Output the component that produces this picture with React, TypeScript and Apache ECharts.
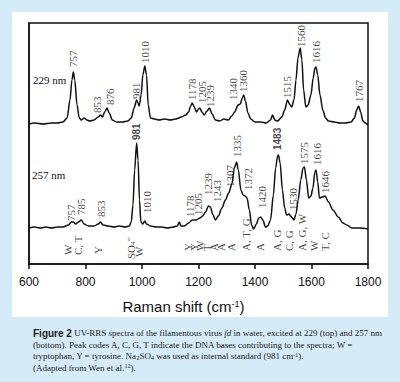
import React, { useEffect, useRef } from "react";
import * as echarts from "echarts";

// ---- x axis ----
const xTicks = [600, 800, 1000, 1200, 1400, 1600, 1800];

// ---- 229 nm spectrum (arbitrary intensity units) ----
const wn229 = [600, 620, 650, 680, 700, 720, 735, 745, 752, 757, 762, 770, 778, 785, 795, 805, 815, 830, 845, 853, 860, 868, 876, 884, 895, 910, 930, 950, 962, 972, 981, 990, 997, 1003, 1010, 1016, 1022, 1030, 1045, 1060, 1080, 1100, 1120, 1140, 1155, 1165, 1172, 1178, 1185, 1193, 1200, 1205, 1212, 1220, 1230, 1239, 1248, 1260, 1275, 1290, 1305, 1318, 1328, 1340, 1348, 1355, 1360, 1366, 1375, 1385, 1400, 1420, 1440, 1455, 1462, 1470, 1480, 1495, 1505, 1515, 1522, 1530, 1538, 1545, 1552, 1560, 1566, 1572, 1580, 1588, 1598, 1606, 1612, 1616, 1622, 1630, 1640, 1650, 1660, 1680, 1700, 1720, 1740, 1752, 1760, 1767, 1774, 1782, 1790, 1800];
const int229 = [140, 141, 140, 141, 141, 142, 146, 164, 184, 192, 184, 159, 146, 144, 146, 144, 143, 144, 147, 149, 147, 152, 156, 151, 144, 142, 142, 143, 146, 156, 164, 158, 169, 189, 198, 189, 159, 146, 145, 144, 145, 144, 145, 147, 149, 152, 158, 161, 157, 152, 155, 156, 152, 149, 153, 156, 150, 144, 143, 145, 144, 148, 152, 159, 160, 166, 169, 163, 151, 145, 142, 142, 141, 144, 149, 144, 143, 147, 154, 164, 160, 157, 164, 184, 206, 216, 204, 174, 157, 159, 169, 186, 196, 197, 189, 169, 154, 146, 143, 142, 141, 141, 142, 146, 154, 158, 152, 143, 141, 139];

// ---- 257 nm spectrum ----
const wn257 = [600, 620, 640, 660, 680, 700, 720, 740, 750, 757, 765, 775, 785, 795, 810, 830, 845, 853, 862, 880, 900, 920, 940, 955, 962, 968, 974, 981, 986, 991, 996, 1003, 1010, 1016, 1030, 1050, 1070, 1090, 1110, 1125, 1132, 1138, 1150, 1165, 1178, 1192, 1205, 1215, 1225, 1235, 1242, 1250, 1260, 1270, 1283, 1295, 1307, 1318, 1327, 1335, 1341, 1350, 1358, 1365, 1372, 1380, 1388, 1395, 1405, 1413, 1420, 1428, 1437, 1445, 1455, 1465, 1473, 1480, 1483, 1489, 1497, 1505, 1512, 1520, 1526, 1532, 1538, 1545, 1553, 1562, 1570, 1575, 1582, 1590, 1598, 1605, 1612, 1616, 1622, 1628, 1638, 1648, 1660, 1676, 1695, 1711, 1725, 1743, 1770, 1800];
const int257 = [36, 37, 36, 37, 36, 37, 37, 39, 42, 42, 40, 42, 44, 40, 38, 38, 40, 42, 39, 38, 37, 38, 37, 38, 42, 59, 94, 121, 104, 64, 42, 40, 43, 40, 38, 37, 37, 36, 37, 38, 42, 38, 38, 41, 44, 44, 46, 48, 52, 58, 57, 50, 44, 48, 56, 64, 71, 80, 96, 102, 94, 74, 69, 68, 66, 54, 39, 35, 40, 46, 47, 44, 37, 38, 44, 69, 96, 108, 109, 101, 74, 56, 49, 50, 48, 46, 44, 50, 64, 84, 96, 97, 84, 66, 68, 76, 92, 94, 82, 66, 67, 68, 62, 54, 47, 41, 39, 36, 36, 35];

// ---- peak labels, 229 nm (label position in wavenumber, base height in intensity units) ----
const peaks229Text = ["757", "853", "876", "981", "1010", "1178", "1205", "1239", "1340", "1360", "1515", "1560", "1616", "1767"];
const peaks229Wn = [756, 841, 887, 979, 1011, 1177, 1212, 1241, 1322, 1358, 1513, 1563, 1616, 1768];
const peaks229Base = [197, 151, 159, 165, 201, 164, 161, 157, 164, 172, 166, 217, 201, 162];

// ---- peak labels, 257 nm ----
const peaks257Text = ["757", "785", "853", "981", "1010", "1178", "1205", "1239", "1243", "1307", "1335", "1372", "1420", "1483", "1530", "1575", "1616", "1646"];
const peaks257Wn = [749, 784, 855, 982, 1017, 1170, 1198, 1234, 1265, 1311, 1336, 1375, 1425, 1481, 1534, 1573, 1619, 1648];
const peaks257Base = [43, 49, 47, 124, 51, 47, 49, 69, 62, 77, 107, 74, 56, 114, 54, 100, 99, 71];
const peaks257Bold = ["981", "1483"];

// ---- band assignments under the 257 nm trace ----
const assignText = ["W", "C, T", "Y", "{t|SO}{sb|4}{sp|=}", "W", "Y", "Y", "W", "T", "A", "A", "A", "A, T, G", "A", "A, G", "C, G", "A, G, W", "W", "T, C"];
const assignWn = [738, 773, 844, 961, 989, 1163, 1184, 1205, 1230, 1255, 1280, 1315, 1368, 1418, 1478, 1520, 1566, 1609, 1648];
const assignBase = [9, 9, 10, 5, 7, 13, 13, 13, 13, 13, 13, 13, 13, 13, 13, 13, 13, 13, 13];

const traceNames = ["229 nm", "257 nm"];

const captionLines = [
  "{b|Figure 2} UV-RRS spectra of the filamentous virus {i|fd} in water, excited at 229 (top) and 257 nm",
  "(bottom). Peak codes A, C, G, T indicate the DNA bases contributing to the spectra; W =",
  "tryptophan, Y = tyrosine. Na{sb|2}SO{sb|4} was used as internal standard (981 cm{sp|-1}).",
  "(Adapted from Wen et al.{sp|12}).",
];

const SERIF = "'Liberation Serif', 'Times New Roman', serif";
const SANS = "'Liberation Sans', Arial, sans-serif";

function zip(a: number[], b: number[]) {
  return a.map((v, i) => [v, b[i]]);
}

function labelItems(texts: string[], wns: number[], bases: number[], bold: string[] = []) {
  return texts.map((t, i) => ({
    value: [wns[i], bases[i]],
    label: {
      formatter: t,
      fontWeight: bold.includes(t) ? "bold" : "normal",
      fontFamily: bold.includes(t) ? SANS : SERIF,
      fontSize: bold.includes(t) ? 10 : 11,
    },
  }));
}

const labelSeriesBase = {
  type: "scatter",
  symbolSize: 0,
  silent: true,
  z: 5,
  label: {
    show: true,
    position: [0, 0],
    rotate: 90,
    align: "left",
    verticalAlign: "middle",
    color: "#111",
    fontFamily: SERIF,
    fontSize: 11,
    rich: {
      t: { fontFamily: SERIF, fontSize: 11, color: "#111" },
      sb: { fontFamily: SERIF, fontSize: 7, color: "#111", verticalAlign: "bottom" },
      sp: { fontFamily: SERIF, fontSize: 8, color: "#111", verticalAlign: "top" },
    },
  },
};

export default function App() {
  const ref = useRef<HTMLDivElement>(null);
  useEffect(() => {
    const chart = echarts.init(ref.current!, null, { renderer: "svg" });
    const option: any = {
      animation: false,
      backgroundColor: "transparent",
      grid: {
        left: 29,
        right: 32,
        top: 23,
        bottom: 118,
        show: true,
        borderColor: "#111",
        borderWidth: 1.5,
        backgroundColor: "transparent",
      },
      xAxis: {
        type: "value",
        min: xTicks[0],
        max: xTicks[xTicks.length - 1],
        interval: 200,
        axisLine: { show: true, lineStyle: { color: "#111", width: 1.5 } },
        axisTick: { show: true, inside: false, length: 5, lineStyle: { color: "#111", width: 1.5 } },
        axisLabel: {
          color: "#111",
          fontFamily: SANS,
          fontSize: 12,
          margin: 12,
          formatter: (v: number) => String(v),
        },
        splitLine: { show: false },
        name: "{a|Raman shift (cm}{s|-1}{a|)}",
        nameLocation: "middle",
        nameGap: 35,
        nameTextStyle: {
          padding: [0, 30, 0, 0],
          rich: {
            a: { fontFamily: SANS, fontSize: 15, color: "#111" },
            s: { fontFamily: SANS, fontSize: 9, color: "#111", verticalAlign: "top" },
          },
        },
      },
      yAxis: {
        type: "value",
        min: 0,
        max: 241,
        show: true,
        axisLine: { show: true, lineStyle: { color: "#111", width: 1.5 } },
        axisTick: { show: false },
        axisLabel: { show: false },
        splitLine: { show: false },
      },
      graphic: [
        {
          type: "rect",
          z: -10,
          shape: { x: 12, y: 12, width: 376, height: 305 },
          style: { fill: "#ffffff" },
          silent: true,
        },
        {
          type: "text",
          x: 33,
          y: 80,
          style: { text: traceNames[0], font: `11px ${SERIF}`, fill: "#111", verticalAlign: "middle" },
        },
        {
          type: "text",
          x: 32,
          y: 175,
          style: { text: traceNames[1], font: `11px ${SERIF}`, fill: "#111", verticalAlign: "middle" },
        },
        ...captionLines.map((line, i) => ({
          type: "text",
          x: 33,
          y: 333 + i * 11.5,
          style: {
            text: line,
            fill: "#222",
            font: `9px ${SERIF}`,
            verticalAlign: "middle",
            rich: {
              b: { fontFamily: SANS, fontWeight: "bold", fontSize: 10, fill: "#222" },
              i: { fontFamily: SERIF, fontStyle: "italic", fontSize: 9, fill: "#222" },
              sb: { fontFamily: SERIF, fontSize: 6, fill: "#222", verticalAlign: "bottom" },
              sp: { fontFamily: SERIF, fontSize: 6, fill: "#222", verticalAlign: "top" },
            },
          },
        })),
      ],
      series: [
        {
          type: "line",
          name: traceNames[0],
          data: zip(wn229, int229),
          showSymbol: false,
          smooth: 0.3,
          smoothMonotone: "x",
          lineStyle: { color: "#111", width: 1.5 },
          z: 3,
        },
        {
          type: "line",
          name: traceNames[1],
          data: zip(wn257, int257),
          showSymbol: false,
          smooth: 0.3,
          smoothMonotone: "x",
          lineStyle: { color: "#111", width: 1.5 },
          z: 3,
        },
        { ...labelSeriesBase, data: labelItems(peaks229Text, peaks229Wn, peaks229Base) },
        { ...labelSeriesBase, data: labelItems(peaks257Text, peaks257Wn, peaks257Base, peaks257Bold) },
        { ...labelSeriesBase, data: labelItems(assignText, assignWn, assignBase) },
      ],
    };
    chart.setOption(option);
    return () => chart.dispose();
  }, []);
  return (
    <div
      ref={ref}
      style={{ position: "fixed", left: 0, top: 0, width: 400, height: 382, background: "#d5ecf8" }}
    />
  );
}
